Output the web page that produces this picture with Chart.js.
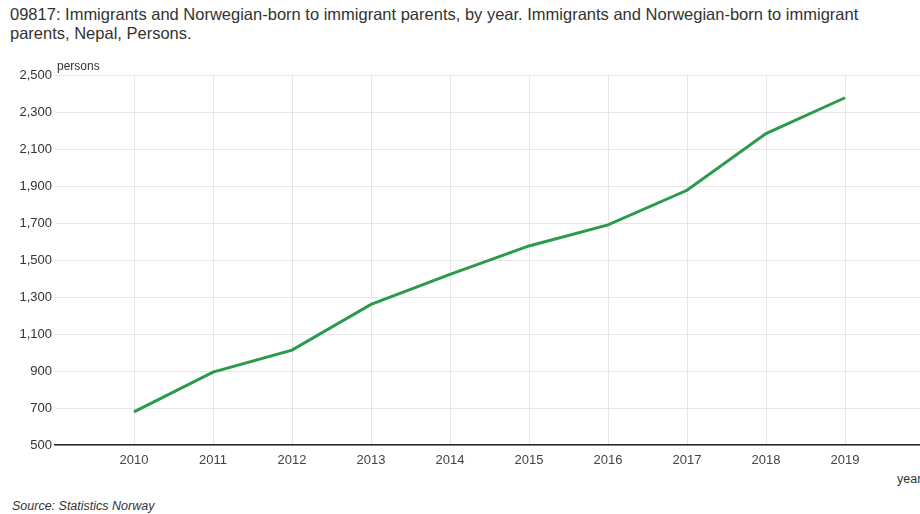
<!DOCTYPE html>
<html>
<head>
<meta charset="utf-8">
<script src="https://cdn.jsdelivr.net/npm/chart.js@4.4.1/dist/chart.umd.min.js"></script>
<style>
  html, body { margin: 0; padding: 0; background: #fff; overflow: hidden; }
  body { width: 920px; height: 514px; position: relative; font-family: "Liberation Sans", Arial, sans-serif; color: #333; }
  #title { position: absolute; left: 10px; top: 5px; width: 900px; font-size: 16.5px; line-height: 19px; color: #333; }
  #wrap { position: absolute; left: 0; top: 0; width: 940px; height: 470px; }
  .lbl { position: absolute; color: #333; white-space: nowrap; }
  #ylabel { left: 57px; top: 59px; font-size: 12px; }
  #xlabel { left: 897px; top: 472px; font-size: 12.5px; }
  #source { left: 12px; top: 499px; font-size: 12.5px; font-style: italic; }
</style>
</head>
<body>
<div id="title">09817: Immigrants and Norwegian-born to immigrant parents, by year. Immigrants and Norwegian-born to immigrant parents, Nepal, Persons.</div>
<div id="wrap"><canvas id="lineChart" width="940" height="470"></canvas></div>
<div class="lbl" id="ylabel">persons</div>
<div class="lbl" id="xlabel">year</div>
<div class="lbl" id="source">Source: Statistics Norway</div>
<script>
// Data
const years = [2010, 2011, 2012, 2013, 2014, 2015, 2016, 2017, 2018, 2019];
const persons = [679, 894, 1013, 1260, 1422, 1576, 1690, 1877, 2183, 2377];
const yTicks = { min: 500, max: 2500, step: 200 };
const xRange = { min: 2009, max: 2020 };

function initializeChart() {
  const ctx = document.getElementById('lineChart');
  if (!ctx) return;

  new Chart(ctx, {
    type: 'line',
    data: {
      datasets: [{
        label: 'Nepal',
        data: years.map((y, i) => ({ x: y, y: persons[i] })),
        borderColor: '#2b9a4c',
        borderWidth: 3,
        pointRadius: 0,
        tension: 0
      }]
    },
    options: {
      responsive: false,
      animation: false,
      locale: 'en-US',
      layout: { padding: { top: 75, right: 16, left: 0, bottom: 0 } },
      plugins: {
        legend: { display: false },
        tooltip: { enabled: false }
      },
      scales: {
        x: {
          type: 'linear',
          min: xRange.min,
          max: xRange.max,
          afterFit: (s) => { s.height = 25; },
          border: { color: '#222', width: 1.5 },
          grid: {
            drawTicks: false,
            color: (c) => (c.tick && (c.tick.value <= xRange.min || c.tick.value >= xRange.max)) ? 'rgba(0,0,0,0)' : '#e6e6e6'
          },
          ticks: {
            stepSize: 1,
            autoSkip: false,
            maxRotation: 0,
            padding: 8,
            color: '#444',
            font: { family: 'Liberation Sans', size: 13 },
            callback: (v) => (v <= xRange.min || v >= xRange.max) ? '' : String(v)
          }
        },
        y: {
          min: yTicks.min,
          max: yTicks.max,
          afterFit: (s) => { s.width = 55; },
          border: { display: false },
          grid: { drawTicks: false, color: '#e6e6e6' },
          ticks: {
            stepSize: yTicks.step,
            padding: 3,
            color: '#333',
            font: { family: 'Liberation Sans', size: 13 }
          }
        }
      }
    }
  });
}

initializeChart();
</script>
</body>
</html>
